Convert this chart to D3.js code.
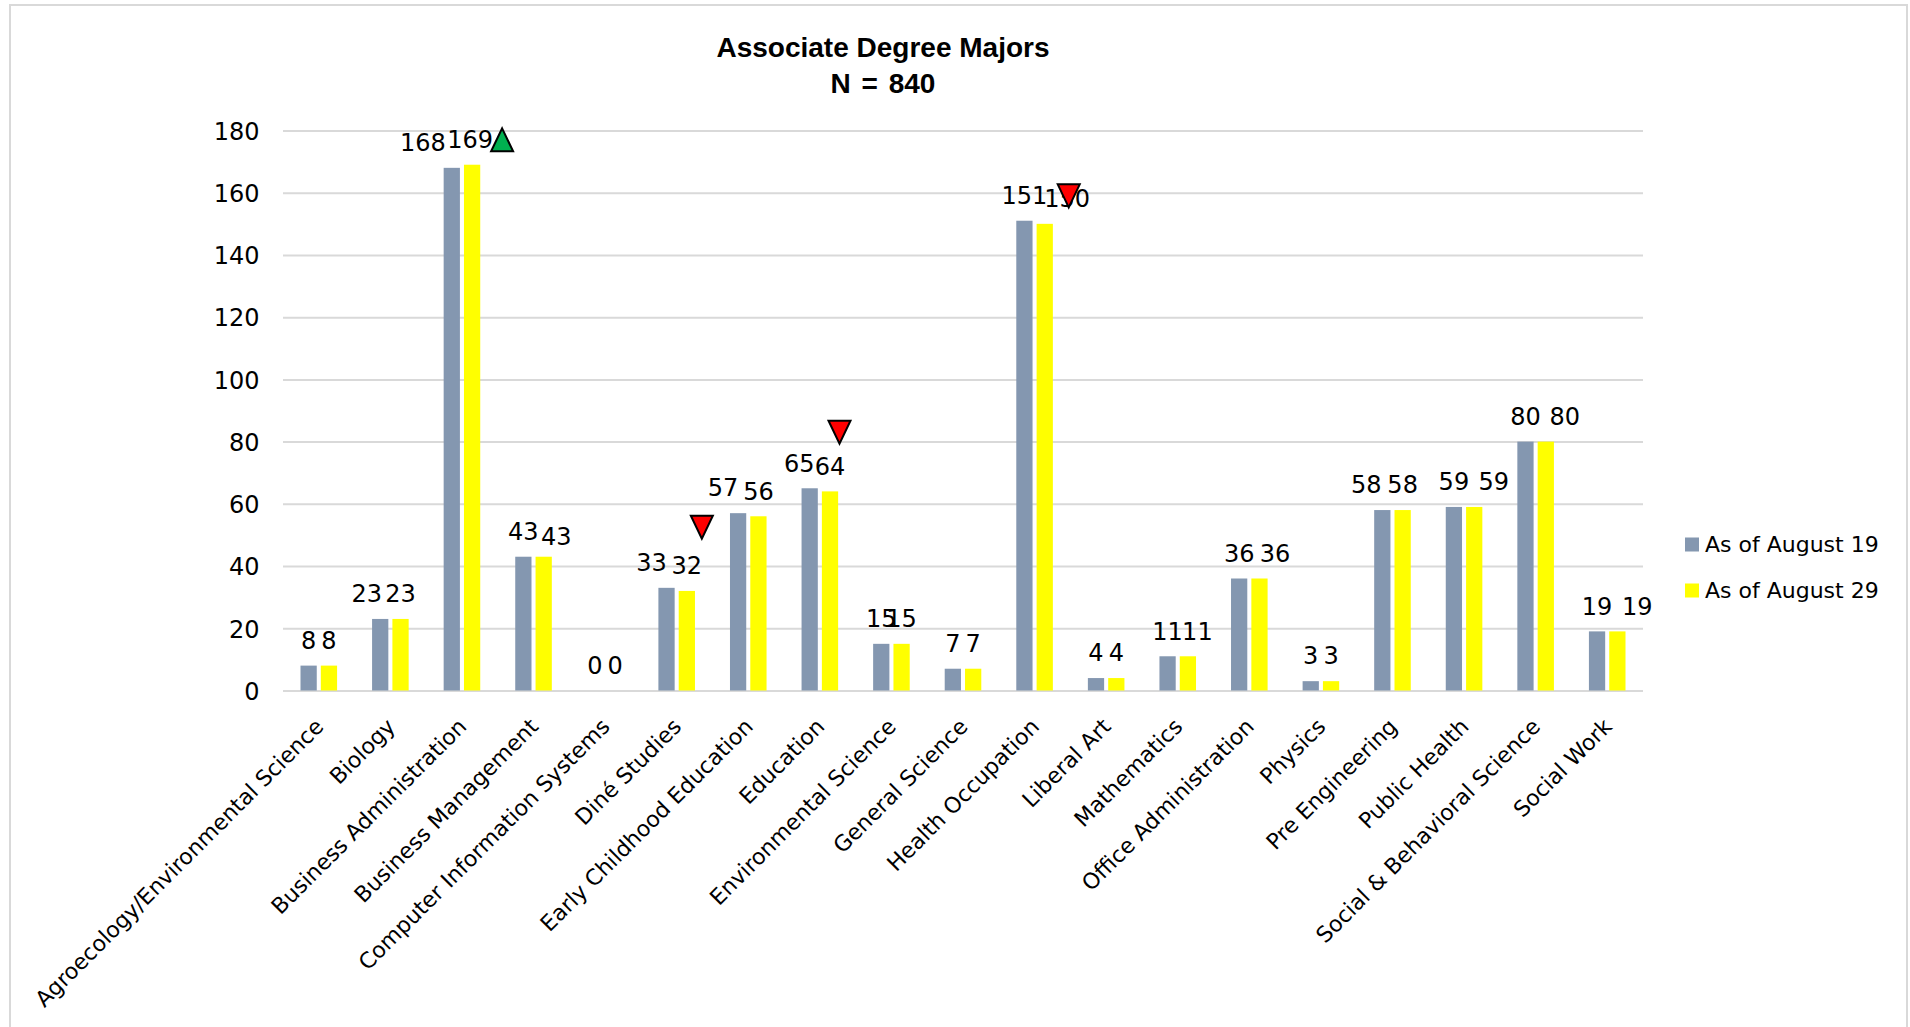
<!DOCTYPE html>
<html>
<head>
<meta charset="utf-8">
<script src="https://cdn.jsdelivr.net/npm/d3@7"></script>
<style>
  html, body { margin: 0; padding: 0; background: #ffffff; }
  svg { display: block; }
  text { fill: #000; }
</style>
</head>
<body>
<svg id="chart" width="1910" height="1027"></svg>
<script>
// Associate degree majors, headcount by snapshot date
const categories = [
  "Agroecology/Environmental Science",
  "Biology",
  "Business Administration",
  "Business Management",
  "Computer Information Systems",
  "Diné Studies",
  "Early Childhood Education",
  "Education",
  "Environmental Science",
  "General Science",
  "Health Occupation",
  "Liberal Art",
  "Mathematics",
  "Office Administration",
  "Physics",
  "Pre Engineering",
  "Public Health",
  "Social & Behavioral Science",
  "Social Work"
];
const seriesNames = ["As of August 19", "As of August 29"];
const august19 = [8, 23, 168, 43, 0, 33, 57, 65, 15, 7, 151, 4, 11, 36, 3, 58, 59, 80, 19];
const august29 = [8, 23, 169, 43, 0, 32, 56, 64, 15, 7, 150, 4, 11, 36, 3, 58, 59, 80, 19];
const yTicks = [0, 20, 40, 60, 80, 100, 120, 140, 160, 180];
const titleLines = ["Associate Degree Majors", "N = 840"];

// change indicators shown next to the later snapshot
const changeMarkers = [
  { category: "Business Administration", direction: "up" },
  { category: "Diné Studies", direction: "down" },
  { category: "Education", direction: "down" },
  { category: "Health Occupation", direction: "down" }
];

// ---- layout ----
const plot = { left: 283, right: 1643, top: 130.5, bottom: 690.5 };
const seriesColors = ["#8497B0", "#FFFF00"];
const gridColor = "#D9D9D9";
const bodyFont = "'DejaVu Sans', sans-serif";
const titleFont = "'Liberation Sans', Arial, sans-serif";

// hand placement of value labels (px shift of each label from its bar centre)
const labelShift = [
  // August 19
  [0, -13.5, -29, 0, 0, -15, -15, -10.5, 0, 0, 0, 0, 0, 0, 0, -16, 0, 0, 0],
  // August 29
  [0, 0, -2, 12.5, 0, 0, 0, 0, 0, 0, 22.5, 0, 9.5, 15.5, 0, 0, 19.5, 19, 20]
];
const labelLift = [
  new Array(19).fill(0),
  [0, 0, 0, 5, 0, 0, 0, 0, 0, 0, 0, 0, 0, 0, 0, 0, 0, 0, 0]
];
// where each change indicator sits: px right of its bar, and height in axis units
const markerPlacement = {
  "Business Administration": { dx: 30, level: 177 },
  "Diné Studies": { dx: 15, level: 52.5 },
  "Education": { dx: 9.5, level: 83 },
  "Health Occupation": { dx: 24, level: 159 }
};

const svg = d3.select("#chart");

// chart frame
svg.append("rect")
  .attr("x", 10).attr("y", 5)
  .attr("width", 1897).attr("height", 1040)
  .attr("fill", "#fff")
  .attr("stroke", gridColor).attr("stroke-width", 2);

const x0 = d3.scaleBand()
  .domain(categories)
  .range([plot.left, plot.right])
  .paddingInner(0.489)
  .paddingOuter(0.2445);

const x1 = d3.scaleBand()
  .domain(seriesNames)
  .range([0, x0.bandwidth()])
  .paddingInner(0.2);

const y = d3.scaleLinear().domain([0, 180]).range([plot.bottom, plot.top]);

// gridlines + y axis labels
const yAxis = d3.axisLeft(y).tickValues(yTicks).tickSize(-(plot.right - plot.left)).tickPadding(23.5);
const gy = svg.append("g").attr("transform", `translate(${plot.left},0)`).call(yAxis);
gy.select(".domain").remove();
gy.selectAll(".tick line").attr("stroke", gridColor).attr("stroke-width", 2);
gy.selectAll(".tick text")
  .style("font-family", bodyFont)
  .style("font-size", "24px")
  .attr("fill", "#000")
  .attr("dy", null)
  .attr("y", 8.75)
  .attr("x", -23.5);

// bars
const table = categories.map((c, i) => ({ category: c, i, values: [august19[i], august29[i]] }));
const groups = svg.append("g").selectAll("g")
  .data(table)
  .join("g")
  .attr("transform", d => `translate(${x0(d.category)},0)`);

groups.selectAll("rect")
  .data(d => d.values.map((v, s) => ({ s, v })))
  .join("rect")
  .attr("x", d => x1(seriesNames[d.s]))
  .attr("width", x1.bandwidth())
  .attr("y", d => y(d.v))
  .attr("height", d => y(0) - y(d.v))
  .attr("fill", d => seriesColors[d.s]);

// value labels
groups.selectAll("text.val")
  .data(d => d.values.map((v, s) => ({ s, v, i: d.i })))
  .join("text")
  .attr("class", "val")
  .attr("x", d => x1(seriesNames[d.s]) + x1.bandwidth() / 2 + labelShift[d.s][d.i])
  .attr("y", d => y(d.v) - 16.75 + labelLift[d.s][d.i])
  .attr("text-anchor", "middle")
  .style("font-family", bodyFont)
  .style("font-size", "24px")
  .text(d => d.v);

// category labels, rotated
svg.append("g").selectAll("text")
  .data(categories)
  .join("text")
  .attr("transform", c => `translate(${x0(c) + x0.bandwidth() / 2 + 6},728) rotate(-45)`)
  .attr("text-anchor", "end")
  .style("font-family", bodyFont)
  .style("font-size", "22px")
  .text(c => c);

// change indicators
const triSize = 22, triH = 23;
svg.append("g").selectAll("path")
  .data(changeMarkers)
  .join("path")
  .attr("transform", m => {
    const p = markerPlacement[m.category];
    const cx = x0(m.category) + x1(seriesNames[1]) + x1.bandwidth() / 2 + p.dx;
    return `translate(${cx},${y(p.level)})`;
  })
  .attr("d", m => m.direction === "up"
    ? `M0,${-triH / 2} L${triSize / 2},${triH / 2} L${-triSize / 2},${triH / 2} Z`
    : `M${-triSize / 2},${-triH / 2} L${triSize / 2},${-triH / 2} L0,${triH / 2} Z`)
  .attr("fill", m => m.direction === "up" ? "#00B050" : "#FF0000")
  .attr("stroke", "#000")
  .attr("stroke-width", 2)
  .attr("stroke-linejoin", "miter");

// title
svg.append("g").selectAll("text")
  .data(titleLines)
  .join("text")
  .attr("x", 883)
  .attr("y", (d, i) => 57 + i * 36)
  .attr("text-anchor", "middle")
  .style("font-family", titleFont)
  .style("font-weight", "bold")
  .style("font-size", "28px")
  .style("word-spacing", (d, i) => i === 1 ? "3px" : null)
  .text(d => d);

// legend
const legend = svg.append("g").selectAll("g")
  .data(seriesNames)
  .join("g")
  .attr("transform", (d, i) => `translate(1685,${537.5 + i * 46})`);
legend.append("rect")
  .attr("width", 14).attr("height", 14)
  .attr("fill", (d, i) => seriesColors[i]);
legend.append("text")
  .attr("x", 20).attr("y", 14)
  .style("font-family", bodyFont)
  .style("font-size", "22px")
  .text(d => d);
</script>
</body>
</html>
